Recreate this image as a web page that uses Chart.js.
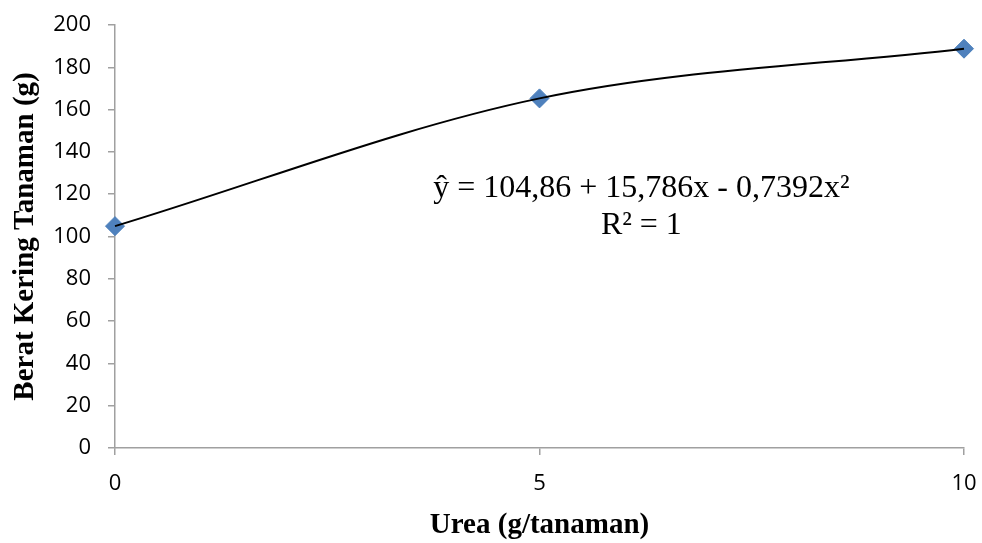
<!DOCTYPE html>
<html>
<head>
<meta charset="utf-8">
<script src="https://cdn.jsdelivr.net/npm/chart.js@4/dist/chart.umd.min.js"></script>
<style>
  body { margin: 0; background: #fff; }
  #wrap { width: 982px; height: 543px; position: relative; }
</style>
</head>
<body>
<div id="wrap"><canvas id="myChart"></canvas></div>
<script>
//Data
var ureaDose = [0, 5, 10];
var dryWeight = [104.9, 165.3, 188.8];
var yTicks = [0, 20, 40, 60, 80, 100, 120, 140, 160, 180, 200];
var xTicks = [0, 5, 10];
var equationText = ["ŷ = 104,86 + 15,786x - 0,7392x²", "R² = 1"];

var axisGray = "#a0a0a0";

function toPoints(xs, ys){
    return xs.map(function (x, i) { return {x: x, y: ys[i]}; });
}

//scale label overflow should not push the plot area in
function fixBox(scale, prop, size){
    scale[prop] = size;
    scale.paddingTop = 0;
    scale.paddingBottom = 0;
    scale.paddingLeft = 0;
    scale.paddingRight = 0;
}

//writes the regression label, anchored in data units
var equationPlugin = {
    id: "equation",
    afterDatasetsDraw: function (chart) {
        var ctx = chart.ctx;
        var xs = chart.scales.x;
        var ys = chart.scales.y;
        ctx.save();
        ctx.fillStyle = "#000";
        ctx.font = "32px 'Liberation Serif', 'Times New Roman', serif";
        ctx.textAlign = "center";
        ctx.textBaseline = "alphabetic";
        ctx.fillText(equationText[0], xs.getPixelForValue(6.2), ys.getPixelForValue(118.7));
        ctx.fillText(equationText[1], xs.getPixelForValue(6.2), ys.getPixelForValue(101.2));
        ctx.restore();
    }
};

new Chart("myChart", {
    type: "scatter",
    data: {
        datasets: [{
            label: "trend",
            data: toPoints(ureaDose, dryWeight),
            showLine: true,
            cubicInterpolationMode: "monotone",
            borderColor: "#000",
            borderWidth: 2,
            pointRadius: 0,
            fill: false,
            clip: false,
            order: 0
        }, {
            label: "Berat Kering",
            data: toPoints(ureaDose, dryWeight),
            pointStyle: "rectRot",
            pointRadius: 9.5,
            pointBackgroundColor: "#4f81bd",
            pointBorderColor: "#4a7ebb",
            pointBorderWidth: 1,
            showLine: false,
            clip: false,
            order: 1
        }]
    },
    options: {
        responsive: true,
        maintainAspectRatio: false,
        animation: false,
        layout: { autoPadding: false, padding: { left: 0, right: 18, top: 25, bottom: 0 } },
        plugins: {
            legend: { display: false },
            tooltip: { enabled: false }
        },
        scales: {
            x: {
                type: "linear",
                min: 0,
                max: 10,
                afterBuildTicks: function (scale) {
                    scale.ticks = xTicks.map(function (v) { return {value: v}; });
                },
                afterFit: function (scale) { fixBox(scale, "height", 95); },
                grid: { drawOnChartArea: false, drawTicks: true, tickLength: 7, color: axisGray, lineWidth: 1.5 },
                border: { display: true, color: axisGray, width: 1.5 },
                ticks: {
                    color: "#000",
                    padding: 16,
                    maxRotation: 0,
                    font: { family: "'Open Sans', sans-serif", size: 22 }
                },
                title: {
                    display: true,
                    text: "Urea (g/tanaman)",
                    color: "#000",
                    padding: { top: 0, bottom: 0 },
                    font: { family: "'Liberation Serif', 'Times New Roman', serif", size: 29, weight: "bold" }
                }
            },
            y: {
                min: 0,
                max: 200,
                afterBuildTicks: function (scale) {
                    scale.ticks = yTicks.map(function (v) { return {value: v}; });
                },
                afterFit: function (scale) { fixBox(scale, "width", 115); },
                grid: { drawOnChartArea: false, drawTicks: true, tickLength: 7, color: axisGray, lineWidth: 1.5 },
                border: { display: true, color: axisGray, width: 1.5 },
                ticks: {
                    color: "#000",
                    padding: 17,
                    font: { family: "'Open Sans', sans-serif", size: 22 }
                },
                title: {
                    display: true,
                    text: "Berat Kering Tanaman (g)",
                    color: "#000",
                    padding: { top: 8, bottom: 0 },
                    font: { family: "'Liberation Serif', 'Times New Roman', serif", size: 29, weight: "bold" }
                }
            }
        }
    },
    plugins: [equationPlugin]
});
</script>
</body>
</html>
